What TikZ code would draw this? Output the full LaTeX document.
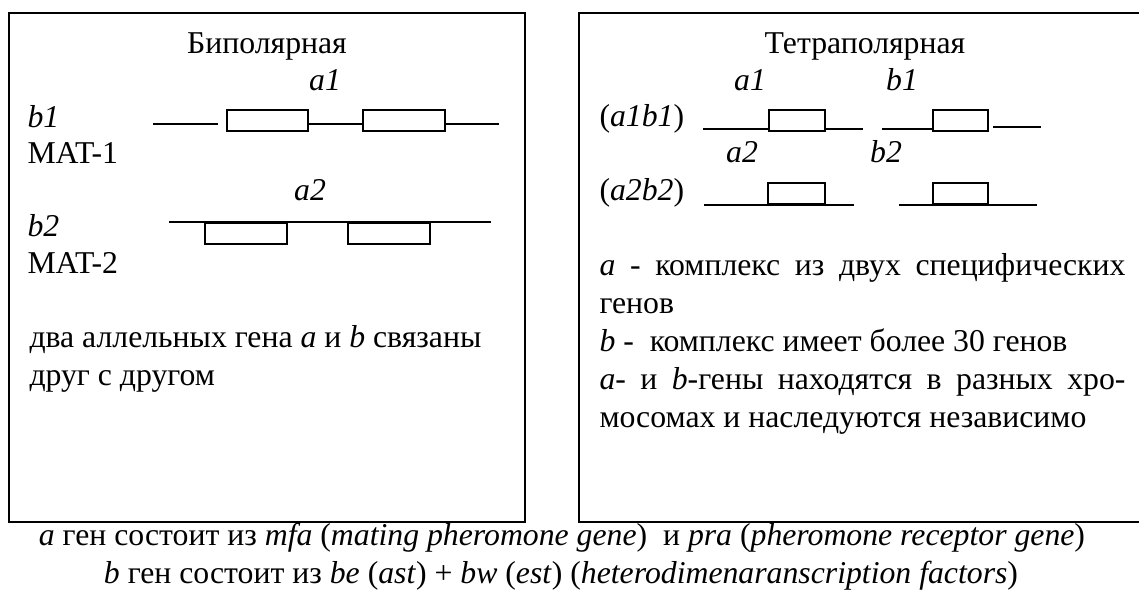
\documentclass[tikz,border=0pt]{standalone}
\usepackage{fontspec}
\setmainfont{Liberation Serif}
\usetikzlibrary{positioning}

\tikzset{
	panel/.style={draw, line width=0.8pt},
	dna/.style={line width=0.8pt},
	gene/.style={draw, line width=0.8pt, rectangle, inner sep=0pt, minimum height=8.4pt},
	txt/.style={anchor=base west, inner sep=0pt, font=\fontsize{12.7}{15.2}\selectfont},
	ttl/.style={txt, anchor=base},
}
\newcommand{\jline}[1]{\makebox[210.4pt][s]{#1}}

\begin{document}
\begin{tikzpicture}[x=0.4pt, y=-0.4pt]
	\useasboundingbox (0,0) rectangle (1139,594);
	
	% panels
	\draw[panel] (9,13) rectangle (525,522);
	\draw[panel] (579,13) rectangle (1145,522);
	
	% bipolar
	\node[ttl] (bititle) at (267,53) {Биполярная};
	\node[ttl] (ba1) at (325,90) {\textit{a1}};
	\node[txt] (bb1) at (27,127) {\textit{b1}};
	\node[txt] (mat1) at (27,163) {MAT-1};
	\node[ttl] (ba2) at (310,200) {\textit{a2}};
	\node[txt] (bb2) at (27,236) {\textit{b2}};
	\node[txt] (mat2) at (27,273) {MAT-2};
	\node[txt] (bnote1) at (29,347) {два аллельных гена \textit{a} и \textit{b} связаны};
	\node[txt] (bnote2) at (29,385) {друг с другом};
	
	\node[gene, minimum width=32.4pt, anchor=north west] (g11) at (226,109) {};
	\node[gene, minimum width=32.8pt, anchor=north west] (g12) at (362,109) {};
	\coordinate (s1) at (153,124);
	\coordinate (t1) at (218,124);
	\coordinate (e1) at (499,124);
	\draw[dna] (s1) -- (t1);
	\draw[dna] (g11.east |- s1) -- (g12.west |- s1);
	\draw[dna] (g12.east |- s1) -- (e1);
	
	\node[gene, minimum width=32.8pt, anchor=north west] (g21) at (204,222) {};
	\node[gene, minimum width=32.8pt, anchor=north west] (g22) at (347,222) {};
	\coordinate (s2) at (169,222);
	\coordinate (e2) at (491,222);
	\draw[dna] (s2) -- (e2);
	
	% tetrapolar
	\node[ttl] (tetitle) at (865,53) {Тетраполярная};
	\node[ttl] (ta1) at (750,90) {\textit{a1}};
	\node[ttl] (tb1) at (902,90) {\textit{b1}};
	\node[txt] (pair1) at (599,126) {(\textit{a1b1})};
	\node[ttl] (ta2) at (742,162) {\textit{a2}};
	\node[ttl] (tb2) at (886,162) {\textit{b2}};
	\node[txt] (pair2) at (599,200) {(\textit{a2b2})};
	
	\node[gene, minimum width=22.4pt, anchor=north west] (ha1) at (768,109) {};
	\node[gene, minimum width=22pt, anchor=north west] (hb1) at (932,109) {};
	\coordinate (u1) at (703,129);
	\coordinate (v1) at (863,129);
	\coordinate (w1) at (882,129);
	\coordinate (z1) at (1041,127);
	\draw[dna] (u1) -- (ha1.west |- u1);
	\draw[dna] (ha1.east |- u1) -- (v1);
	\draw[dna] (w1) -- (hb1.west |- w1);
	\draw[dna] (hb1.east |- z1) ++(4,0) -- (z1);
	
	\node[gene, minimum width=22.8pt, anchor=south west] (ha2) at (767,205) {};
	\node[gene, minimum width=22pt, anchor=south west] (hb2) at (932,205) {};
	\coordinate (u2) at (704,205);
	\coordinate (v2) at (854,205);
	\coordinate (w2) at (899,205);
	\coordinate (z2) at (1037,205);
	\draw[dna] (u2) -- (v2);
	\draw[dna] (w2) -- (z2);
	
	\node[txt] (tnote1) at (599,275) {\jline{\textit{a} - комплекс из двух специфических}};
	\node[txt] (tnote2) at (599,313) {генов};
	\node[txt] (tnote3) at (599,351) {\textit{b} -\ \ комплекс имеет более 30 генов};
	\node[txt] (tnote4) at (599,389) {\jline{\textit{a}- и \textit{b}-гены находятся в разных хро-}};
	\node[txt] (tnote5) at (599,427) {мосомах и наследуются независимо};
	
	% captions
	\node[ttl] (capa) at (562,545) {\textit{a} ген состоит из \textit{mfa} (\textit{mating pheromone gene})\ \ и \textit{pra} (\textit{pheromone receptor gene})};
	\node[ttl] (capb) at (561,583) {\textit{b} ген состоит из \textit{be} (\textit{ast}) + \textit{bw} (\textit{est}) (\textit{heterodimenaranscription factors})};
\end{tikzpicture}
\end{document}
